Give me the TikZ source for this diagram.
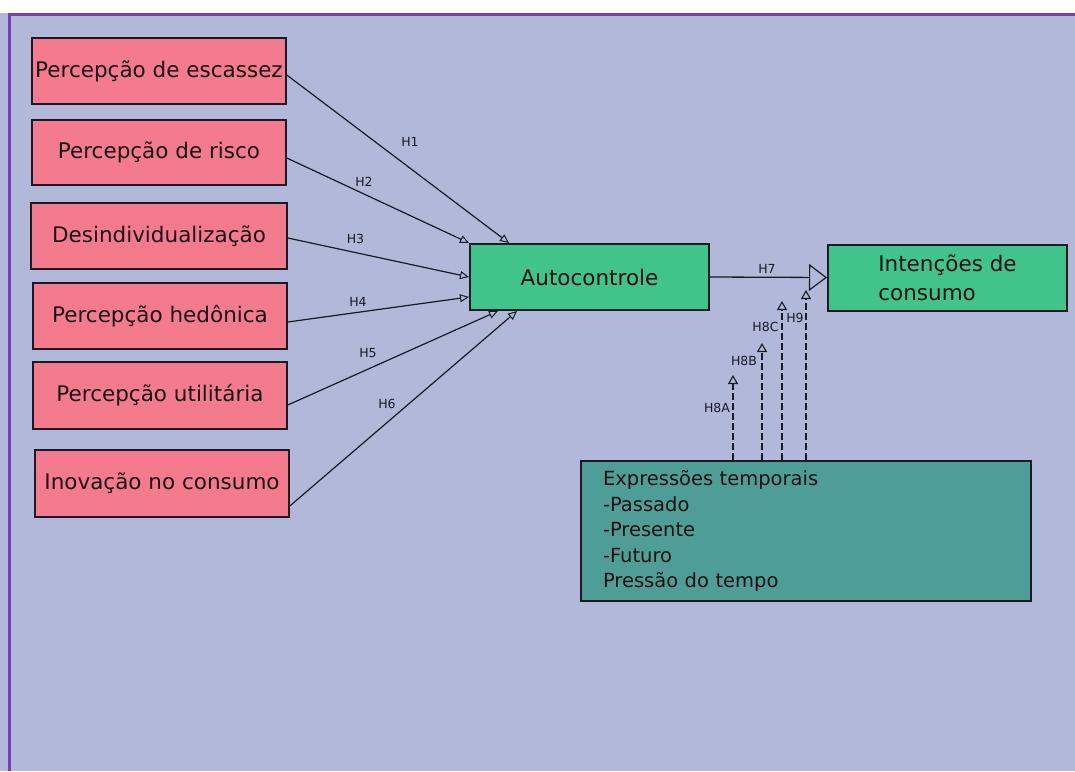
\documentclass[tikz,border=0pt]{standalone}
\usepackage{fontspec}
\setmainfont{DejaVu Sans}
\usetikzlibrary{arrows.meta,calc}
\definecolor{bgc}{HTML}{B1B8DA}
\definecolor{pinkc}{HTML}{F47B8E}
\definecolor{greenc}{HTML}{40C489}
\definecolor{tealc}{HTML}{4E9D96}
\definecolor{purplec}{HTML}{7B3DB6}
\definecolor{linec}{HTML}{1A1A24}
\definecolor{txtc}{HTML}{1A1014}
\begin{document}
\begin{tikzpicture}[x=1pt,y=-1pt,
  pbox/.style={draw=linec, line width=1.6pt, fill=pinkc, minimum width=254pt, minimum height=66pt,
    inner sep=0pt, text=txtc, font=\fontsize{21.5}{26}\selectfont},
  gbox/.style={draw=linec, line width=2pt, fill=greenc, minimum width=239pt, minimum height=66pt,
    inner sep=0pt, text=txtc, font=\fontsize{21.5}{29}\selectfont},
  tbox/.style={draw=linec, line width=1.8pt, fill=tealc, minimum width=450pt, minimum height=140pt,
    inner xsep=22pt, inner ysep=0pt, text width=406pt, align=left, text=txtc,
    font=\fontsize{19.5}{25.5}\selectfont},
  lbl/.style={inner sep=0pt, text=linec, font=\fontsize{12.5}{14}\selectfont},
  arr/.style={draw=linec, line width=1.2pt, -{Triangle[open, length=9pt, width=8pt, line width=1pt]}},
  bigarr/.style={draw=linec, line width=1.3pt, -{Triangle[open, length=18pt, width=27pt, line width=1.2pt]}},
  dsh/.style={draw=linec, line width=1.3pt, dash pattern=on 7pt off 3pt, -{Triangle[open, length=9pt, width=10pt, line width=1.1pt, sep=0pt]}}
]
\useasboundingbox (0,0) rectangle (1075,771);
\fill[white] (0,0) rectangle (1075,771);
\fill[bgc] (0,13) rectangle (1075,771);
\draw[purplec, line width=3pt] (9,771) -- (9,14.5) -- (1075,14.5);

% left boxes
\node[pbox] (b1) at (159,71) {Percepção de escassez};
\node[pbox, minimum height=65pt] (b2) at (159,152.5) {Percepção de risco};
\node[pbox, minimum width=256pt] (b3) at (159,236) {Desindividualização};
\node[pbox] (b4) at (160,316) {Percepção hedônica};
\node[pbox, minimum height=67pt] (b5) at (160,395.5) {Percepção utilitária};
\node[pbox, minimum height=67pt] (b6) at (162,483.5) {Inovação no consumo};

% central and right boxes
\node[gbox] (ac) at (589.5,277) {Autocontrole};
\node[gbox, align=left] (ic) at (947.5,277.5) {Intenções de\\consumo};
\node[tbox] (ex) at (806,531) {Expressões temporais\\-Passado\\-Presente\\-Futuro\\Pressão do tempo};

% arrows H1-H6
\draw[arr] (b1.east |- 0,75) -- (ac.north -| 509,0);
\draw[arr] (b2.east |- 0,158) -- (ac.north west);
\draw[arr] (b3.east |- 0,238) -- (ac.west |- 0,277);
\draw[arr] (b4.east |- 0,322) -- (ac.west |- 0,297);
\draw[arr] (b5.east |- 0,405) -- (ac.south -| 498,0);
\draw[arr] (b6.east |- 0,506) -- (ac.south -| 517,0);

% H7
\draw[bigarr] (ac.east) -- (ic.west);

% dashed moderators
\coordinate (t8a) at (733,375);
\coordinate (t8b) at (762,343);
\coordinate (t8c) at (782,301);
\coordinate (t9) at (806,290);
\draw[dsh] (ex.north -| t8a) -- (t8a);
\draw[dsh] (ex.north -| t8b) -- (t8b);
\draw[dsh] (ex.north -| t8c) -- (t8c);
\draw[dsh] (ex.north -| t9) -- (t9);

% labels
\node[lbl] (l1) at (410,142) {H1};
\node[lbl] (l2) at (364,181.5) {H2};
\node[lbl] (l3) at (355.5,239) {H3};
\node[lbl] (l4) at (358,301.5) {H4};
\node[lbl] (l5) at (368,353.5) {H5};
\node[lbl] (l6) at (387,403.5) {H6};
\node[lbl] (l7) at (767,268.5) {H7};
\node[lbl] (l8a) at (717,408) {H8A};
\node[lbl] (l8b) at (744,361) {H8B};
\node[lbl] (l8c) at (765.5,327) {H8C};
\node[lbl] (l9) at (795,318) {H9};
\end{tikzpicture}
\end{document}
